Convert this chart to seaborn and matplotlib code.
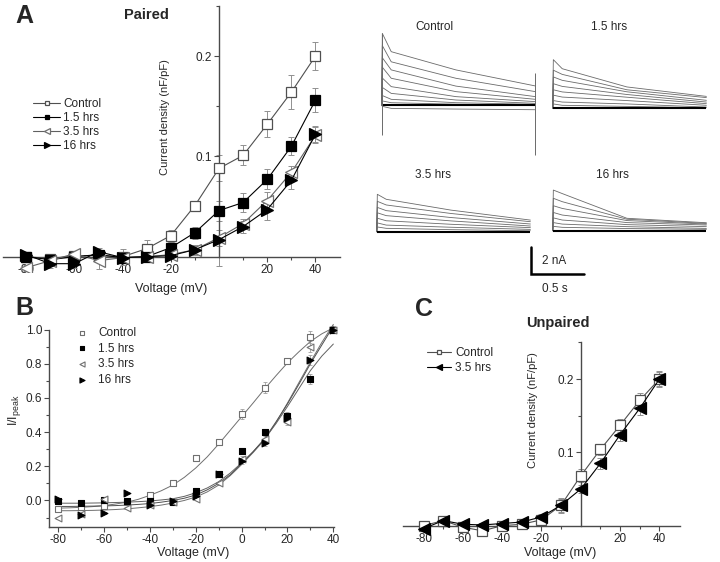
import numpy as np
import matplotlib
matplotlib.use("Agg")
import matplotlib.pyplot as plt
import seaborn as sns

sns.set_style("ticks")
plt.rcParams["font.family"] = ["Liberation Sans", "DejaVu Sans"]
plt.rcParams["axes.unicode_minus"] = False

W, H = 720, 562

# ---------------- data ----------------
volt = [-80, -70, -60, -50, -40, -30, -20, -10, 0, 10, 20, 30, 40]

# A: paired current density (nF/pF)
a_ctrl = [0.000, -0.002, 0.001, 0.001, 0.000, 0.008, 0.021, 0.051, 0.088, 0.101, 0.132, 0.164, 0.200]
a_ctrl_err = [0.003, 0.003, 0.003, 0.003, 0.008, 0.009, 0.006, 0.004, 0.013, 0.010, 0.013, 0.017, 0.014]
a_15 = [0.000, -0.003, 0.000, 0.002, -0.001, 0.000, 0.009, 0.024, 0.046, 0.054, 0.077, 0.110, 0.156]
a_15_err = [0.003, 0.003, 0.003, 0.003, 0.003, 0.003, 0.006, 0.006, 0.010, 0.009, 0.010, 0.009, 0.012]
a_35 = [-0.011, -0.004, 0.003, -0.004, -0.001, 0.000, 0.002, 0.007, 0.019, 0.033, 0.056, 0.084, 0.121]
a_35_err = [0.003, 0.003, 0.003, 0.008, 0.003, 0.003, 0.003, 0.004, 0.008, 0.005, 0.008, 0.006, 0.008]
a_16 = [0.002, -0.007, -0.007, 0.005, -0.001, 0.000, 0.001, 0.007, 0.017, 0.030, 0.047, 0.076, 0.122]
a_16_err = [0.003, 0.004, 0.004, 0.004, 0.003, 0.003, 0.003, 0.005, 0.026, 0.006, 0.010, 0.009, 0.008]

# B: normalised I/Ipeak
b_ctrl = [-0.048, -0.040, -0.030, -0.010, 0.033, 0.100, 0.250, 0.340, 0.505, 0.660, 0.815, 0.955, 1.000]
b_ctrl_err = [0.005, 0.005, 0.005, 0.005, 0.008, 0.010, 0.010, 0.010, 0.030, 0.030, 0.015, 0.035, 0.020]
b_15 = [-0.005, -0.015, 0.000, -0.005, -0.005, -0.008, 0.055, 0.155, 0.290, 0.400, 0.495, 0.710, 1.000]
b_15_err = [0.005, 0.005, 0.005, 0.005, 0.005, 0.005, 0.008, 0.010, 0.015, 0.015, 0.020, 0.030, 0.020]
b_35 = [-0.105, -0.080, 0.010, -0.045, -0.025, -0.010, 0.010, 0.100, 0.245, 0.360, 0.460, 0.900, 1.000]
b_35_err = [0.005, 0.005, 0.005, 0.005, 0.005, 0.005, 0.008, 0.010, 0.015, 0.015, 0.020, 0.030, 0.020]
b_16 = [0.010, -0.085, -0.072, 0.042, -0.025, -0.005, 0.025, 0.155, 0.230, 0.335, 0.485, 0.820, 1.000]
b_16_err = [0.005, 0.005, 0.005, 0.005, 0.005, 0.005, 0.008, 0.010, 0.015, 0.015, 0.020, 0.030, 0.020]

# B: Boltzmann fit curves, read every 5 mV
fit_v = [-80, -75, -70, -65, -60, -55, -50, -45, -40, -35, -30, -25, -20,
         -15, -10, -5, 0, 5, 10, 15, 20, 25, 30, 35, 40]
fit_ctrl = [-0.045, -0.043, -0.040, -0.036, -0.030, -0.021, -0.010, 0.007, 0.030, 0.057, 0.090, 0.135, 0.190,
            0.255, 0.330, 0.410, 0.490, 0.570, 0.652, 0.730, 0.805, 0.870, 0.930, 0.975, 1.010]
fit_15 = [-0.016, -0.016, -0.016, -0.015, -0.014, -0.012, -0.010, -0.007, -0.003, 0.003, 0.010, 0.024, 0.045,
          0.073, 0.110, 0.160, 0.220, 0.285, 0.360, 0.450, 0.550, 0.655, 0.760, 0.845, 0.915]
fit_35 = [-0.060, -0.060, -0.059, -0.058, -0.056, -0.053, -0.049, -0.043, -0.036, -0.027, -0.015, 0.000, 0.020,
          0.050, 0.090, 0.145, 0.210, 0.280, 0.355, 0.455, 0.570, 0.690, 0.810, 0.925, 1.030]
fit_16 = [-0.035, -0.035, -0.034, -0.033, -0.032, -0.030, -0.027, -0.023, -0.018, -0.010, 0.000, 0.013, 0.032,
          0.062, 0.100, 0.150, 0.215, 0.285, 0.360, 0.460, 0.565, 0.680, 0.800, 0.910, 1.020]

# C: unpaired current density
c_ctrl = [0.000, 0.007, -0.002, -0.007, 0.000, 0.002, 0.008, 0.028, 0.068, 0.104, 0.137, 0.171, 0.200]
c_ctrl_err = [0.003, 0.003, 0.003, 0.003, 0.003, 0.003, 0.006, 0.010, 0.009, 0.007, 0.009, 0.010, 0.010]
c_35 = [-0.004, 0.007, 0.002, 0.001, 0.003, 0.005, 0.012, 0.028, 0.050, 0.085, 0.124, 0.160, 0.200]
c_35_err = [0.003, 0.003, 0.003, 0.003, 0.003, 0.003, 0.004, 0.009, 0.006, 0.007, 0.008, 0.009, 0.011]

# current traces (nA) sampled at trace_t (s): onset, peak, after fast decay, mid, end
trace_t = [0.0, 0.006, 0.09, 0.70, 1.45]
ctl_peak = [5.30, 4.40, 3.50, 2.80, 2.00, 1.30, 0.70, 0.30, -0.10]
ctl_start = [3.95, 3.20, 2.60, 1.98, 1.36, 0.86, 0.42, 0.17, -0.25]
ctl_mid = [2.60, 1.98, 1.40, 0.99, 0.62, 0.37, 0.17, 0.06, -0.30]
ctl_end = [1.41, 0.99, 0.62, 0.42, 0.25, 0.12, 0.05, 0.00, -0.35]
ctl_artifact_on = [-2.2, 5.3]
ctl_artifact_off = [2.4, -3.7]

h15_peak = [3.58, 2.80, 2.30, 1.80, 1.35, 0.95, 0.55, 0.30]
h15_start = [2.91, 2.49, 2.05, 1.60, 1.19, 0.81, 0.44, 0.20]
h15_mid = [1.56, 1.35, 1.20, 1.00, 0.80, 0.55, 0.30, 0.12]
h15_end = [0.86, 0.77, 0.57, 0.44, 0.32, 0.20, 0.07, 0.02]

h35_peak = [2.77, 2.25, 1.80, 1.40, 1.00, 0.65, 0.35]
h35_start = [2.40, 1.98, 1.56, 1.19, 0.81, 0.49, 0.25]
h35_mid = [1.60, 1.35, 1.05, 0.80, 0.55, 0.33, 0.15]
h35_end = [0.86, 0.74, 0.57, 0.42, 0.30, 0.17, 0.07]

h16_peak = [3.01, 2.40, 1.85, 1.35, 0.95, 0.60, 0.32]
h16_start = [2.75, 2.15, 1.65, 1.16, 0.79, 0.49, 0.25]
h16_mid = [0.92, 0.85, 0.75, 0.60, 0.45, 0.30, 0.16]
h16_end = [0.59, 0.54, 0.49, 0.42, 0.30, 0.17, 0.10]

scale_nA = 2.0
scale_s = 0.5

AX_COL = "#4a4a4a"


def box(l, t, r, b):
    """pixel box (left, top, right, bottom) -> figure fraction rect"""
    return [l / W, 1 - b / H, (r - l) / W, (b - t) / H]


def origin_axes(ax, xlim, ylim):
    ax.set_xlim(*xlim)
    ax.set_ylim(*ylim)
    ax.patch.set_alpha(0)
    for s in ["top", "right"]:
        ax.spines[s].set_visible(False)
    ax.spines["left"].set_position(("data", 0))
    ax.spines["bottom"].set_position(("data", 0))
    ax.spines["left"].set_bounds(0, ylim[1])
    for s in ["left", "bottom"]:
        ax.spines[s].set_color(AX_COL)
        ax.spines[s].set_linewidth(1.0)
    ax.set_xticks([-80, -60, -40, -20, 20, 40])
    ax.set_xticks([-70, -50, -30, -10, 10, 30], minor=True)
    ax.set_yticks([0.1, 0.2])
    ax.set_yticks([0.05, 0.15, 0.25], minor=True)
    ax.tick_params(which="major", length=3.5, width=0.8, color=AX_COL, labelsize=8.5, pad=1.5)
    ax.tick_params(which="minor", length=2, width=0.8, color=AX_COL)


def iv_series(ax, y, err, marker, ms, face, edge, line, label):
    ax.errorbar(volt, y, yerr=err, fmt="none", ecolor="#909090", elinewidth=0.7,
                capsize=2, capthick=0.7, zorder=1)
    sns.lineplot(x=volt, y=y, ax=ax, marker=marker, markersize=ms, markerfacecolor=face,
                 markeredgecolor=edge, markeredgewidth=0.9, color=line, linewidth=0.8,
                 label=label, legend=False, zorder=3)


fig = plt.figure(figsize=(W / 100, H / 100), dpi=100)

# ---------------- panel A ----------------
axA = fig.add_axes(box(3.3, 6, 340, 271.7))
origin_axes(axA, (-89.5, 50.2), (-0.015, 0.25))
iv_series(axA, a_ctrl, a_ctrl_err, "s", 7, "white", "#505050", "#505050", "Control")
iv_series(axA, a_15, a_15_err, "s", 7, "black", "black", "black", "1.5 hrs")
iv_series(axA, a_35, a_35_err, "<", 8.5, "white", "#707070", "#606060", "3.5 hrs")
iv_series(axA, a_16, a_16_err, ">", 8.5, "black", "black", "black", "16 hrs")
axA.set_xlabel("Voltage (mV)", fontsize=9)
axA.xaxis.set_label_coords(0.498, -0.043)
axA.set_ylabel("Current density (nF/pF)", fontsize=8)
axA.yaxis.set_label_coords(0.495, 0.582)
axA.legend(loc="upper left", bbox_to_anchor=(33 / W, 1 - 98 / H), bbox_transform=fig.transFigure,
           frameon=False, fontsize=8.5, handlelength=2.3, handletextpad=0.25, labelspacing=0.17,
           borderpad=0, borderaxespad=0, markerscale=0.45)

# ---------------- panel B ----------------
axB = fig.add_axes(box(49, 329.5, 334.5, 527.3))
axB.set_xlim(-84, 40.5)
axB.set_ylim(-0.157, 1.0)
axB.patch.set_alpha(0)
for s in ["top", "right"]:
    axB.spines[s].set_visible(False)
for s in ["left", "bottom"]:
    axB.spines[s].set_color(AX_COL)
    axB.spines[s].set_linewidth(1.0)
axB.set_xticks([-80, -60, -40, -20, 0, 20, 40])
axB.set_xticks([-70, -50, -30, -10, 10, 30], minor=True)
axB.set_yticks([0.0, 0.2, 0.4, 0.6, 0.8, 1.0])
axB.set_yticks([-0.1, 0.1, 0.3, 0.5, 0.7, 0.9], minor=True)
axB.yaxis.set_major_formatter(matplotlib.ticker.FormatStrFormatter("%.1f"))
axB.tick_params(which="major", length=3.5, width=0.8, color=AX_COL, labelsize=8.5, pad=1.5)
axB.tick_params(which="minor", length=2, width=0.8, color=AX_COL)

for fy, fc in [(fit_ctrl, "#707070"), (fit_15, "#606060"), (fit_35, "#707070"), (fit_16, "#505050")]:
    sns.lineplot(x=fit_v, y=fy, ax=axB, color=fc, linewidth=0.7, legend=False, zorder=2, clip_on=False)

b_series = [
    (b_ctrl, b_ctrl_err, "s", 17, "white", "#707070", "Control"),
    (b_15, b_15_err, "s", 17, "black", "black", "1.5 hrs"),
    (b_35, b_35_err, "<", 24, "white", "#707070", "3.5 hrs"),
    (b_16, b_16_err, ">", 24, "black", "black", "16 hrs"),
]
for y, err, mk, sz, face, edge, lab in b_series:
    axB.errorbar(volt, y, yerr=err, fmt="none", ecolor="#a0a0a0", elinewidth=0.6,
                 capsize=1.5, capthick=0.6, zorder=1, clip_on=False)
    sns.scatterplot(x=volt, y=y, ax=axB, marker=mk, s=sz, color=face, edgecolor=edge,
                    linewidth=0.8, label=lab, legend=False, zorder=3, clip_on=False)
axB.set_xlabel("Voltage (mV)", fontsize=9)
axB.xaxis.set_label_coords(0.504, -0.098)
axB.set_ylabel("I/I$_{\\mathregular{peak}}$", fontsize=9)
axB.yaxis.set_label_coords(-0.09, 0.593)
axB.legend(loc="upper left", bbox_to_anchor=(76 / W, 1 - 327 / H), bbox_transform=fig.transFigure,
           frameon=False, fontsize=8.5, handlelength=1.0, handletextpad=0.9, labelspacing=0.3,
           borderpad=0, borderaxespad=0, scatterpoints=1, markerscale=0.75)

# ---------------- panel C ----------------
axC = fig.add_axes(box(402.7, 341.7, 680, 536.7))
origin_axes(axC, (-90.6, 50.5), (-0.015, 0.251))
iv_series(axC, c_ctrl, c_ctrl_err, "s", 7, "white", "#505050", "#505050", "Control")
iv_series(axC, c_35, c_35_err, "<", 8.5, "black", "black", "black", "3.5 hrs")
axC.set_xlabel("Voltage (mV)", fontsize=9)
axC.xaxis.set_label_coords(0.567, -0.053)
axC.set_ylabel("Current density (nF/pF)", fontsize=8)
axC.yaxis.set_label_coords(0.488, 0.65)
axC.legend(loc="upper left", bbox_to_anchor=(426.7 / W, 1 - 347 / H), bbox_transform=fig.transFigure,
           frameon=False, fontsize=8.5, handlelength=2.1, handletextpad=0.3, labelspacing=0.28,
           borderpad=0, borderaxespad=0, markerscale=0.5)

# ---------------- current traces ----------------
px_per_s, px_per_nA = 106.0, 13.5
t_lim, i_lim = (-0.05, 1.5), (-4.0, 5.5)


def trace_axes(x0, base):
    l = x0 + t_lim[0] * px_per_s
    r = x0 + t_lim[1] * px_per_s
    t = base - i_lim[1] * px_per_nA
    b = base - i_lim[0] * px_per_nA
    ax = fig.add_axes(box(l, t, r, b))
    ax.set_xlim(*t_lim)
    ax.set_ylim(*i_lim)
    ax.axis("off")
    return ax


panels = [
    ("Control", 381.7, 105.0, (0.50, 5.8), ctl_peak, ctl_start, ctl_mid, ctl_end),
    ("1.5 hrs", 552.7, 108.0, (0.53, 6.0), h15_peak, h15_start, h15_mid, h15_end),
    ("3.5 hrs", 376.7, 231.7, (0.53, 4.2), h35_peak, h35_start, h35_mid, h35_end),
    ("16 hrs", 552.7, 230.7, (0.56, 4.13), h16_peak, h16_start, h16_mid, h16_end),
]
trace_axs = []
for name, x0, base, tpos, pk, st, md, en in panels:
    ax = trace_axes(x0, base)
    trace_axs.append(ax)
    for p, s0, m, e in zip(pk, st, md, en):
        sns.lineplot(x=trace_t, y=[0.0, p, s0, m, e], ax=ax, color="#6a6a6a",
                     linewidth=0.6, legend=False, clip_on=False)
    ax.hlines(0, trace_t[0], trace_t[-1], color="black", linewidth=1.5)
    ax.text(tpos[0], tpos[1], name, ha="center", va="center", fontsize=8.5)

ax_ctl = trace_axs[0]
ax_ctl.vlines(trace_t[0], ctl_artifact_on[0], ctl_artifact_on[1], color="#6a6a6a", linewidth=0.7)
ax_ctl.vlines(trace_t[-1], ctl_artifact_off[1], ctl_artifact_off[0], color="#6a6a6a", linewidth=0.7)

# scale bar
axS = fig.add_axes(box(531, 247, 531 + scale_s * px_per_s, 247 + scale_nA * px_per_nA))
axS.set_xlim(0, scale_s)
axS.set_ylim(0, scale_nA)
axS.axis("off")
axS.plot([0, 0, scale_s], [scale_nA, 0, 0], color="black", linewidth=1.8,
         solid_joinstyle="miter", clip_on=False)
axS.text(0.1, scale_nA / 2, "2 nA", ha="left", va="center", fontsize=8.5)
axS.text(0.22, -1.1, "0.5 s", ha="center", va="center", fontsize=8.5)

# ---------------- titles and panel letters ----------------
fig.text(24 / W, 1 - 16 / H, "A", fontsize=18, fontweight="bold", ha="center", va="center")
fig.text(24 / W, 1 - 308 / H, "B", fontsize=18, fontweight="bold", ha="center", va="center")
fig.text(424 / W, 1 - 309 / H, "C", fontsize=18, fontweight="bold", ha="center", va="center")
fig.text(146 / W, 1 - 15 / H, "Paired", fontsize=10.5, fontweight="bold", ha="center", va="center")
fig.text(558 / W, 1 - 323 / H, "Unpaired", fontsize=10.5, fontweight="bold", ha="center", va="center")

fig.savefig("out.png", dpi=100)
